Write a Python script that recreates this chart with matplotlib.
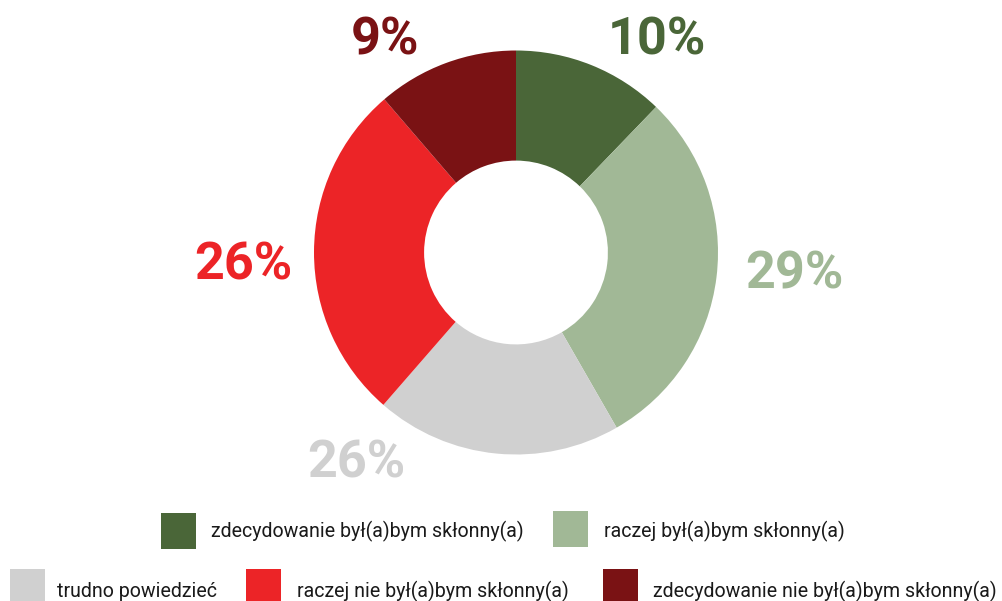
import matplotlib
matplotlib.use("Agg")
from matplotlib import pyplot as plt
from matplotlib.patches import Rectangle

# wedge sizes as drawn (share of the ring) and the printed labels
categories = ['zdecydowanie był(a)bym skłonny(a)', 'raczej był(a)bym skłonny(a)',
              'trudno powiedzieć', 'raczej nie był(a)bym skłonny(a)',
              'zdecydowanie nie był(a)bym skłonny(a)']
wedge_sizes = [12.2, 29.5, 19.7, 27.3, 11.3]
labels = ['10%', '29%', '26%', '26%', '9%']
colors = ['#4a6638', '#a1b896', '#d0d0d0', '#ec2427', '#7a1214']

# label positions (data units, radius = 1) and baselines
label_pos = [(0.70, 0.978), (1.38, -0.176), (-0.79, -1.116), (-1.35, -0.136), (-0.65, 0.978)]

W, H = 1003, 601
fig = plt.figure(figsize=(W / 100, H / 100), dpi=100)
plt.rcParams['font.family'] = ['Roboto', 'DejaVu Sans']

# ring: centre (516, 252.5), outer radius 202 px
cx, cy, r = 516, 252.5, 202
ax = fig.add_axes([(cx - r) / W, (H - cy - r) / H, 2 * r / W, 2 * r / H])
ax.pie(wedge_sizes, colors=colors, startangle=90, counterclock=False,
       wedgeprops=dict(width=0.545, linewidth=0))
ax.set_xlim(-1, 1)
ax.set_ylim(-1, 1)
ax.set_aspect('equal')
ax.axis('off')

for (x, y), lab, c in zip(label_pos, labels, colors):
    ax.text(x, y, lab, ha='center', va='baseline', fontsize=37.5,
            fontweight='bold', color=c)

# legend, two rows drawn by hand
rows = [[0, 1], [2, 3, 4]]
row_boxes = [[(161, 513), (553, 511)], [(10, 569), (246, 569), (603, 569)]]
row_text_x = [[211, 604], [57, 297, 653]]
row_text_base = [537, 597]
for idx_row, boxes, txs, base in zip(rows, row_boxes, row_text_x, row_text_base):
    for i, (bx, by), tx in zip(idx_row, boxes, txs):
        fig.patches.append(Rectangle((bx / W, (H - by - 36) / H), 35 / W, 36 / H,
                                     transform=fig.transFigure, facecolor=colors[i],
                                     edgecolor='none'))
        fig.text(tx / W, (H - base) / H, categories[i], ha='left', va='baseline',
                 fontsize=14.1, color='#1a1a1a')

fig.savefig('out.png', dpi=100)
